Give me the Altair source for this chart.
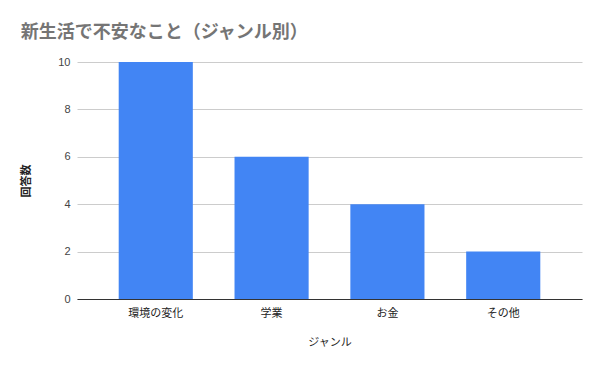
import altair as alt
import pandas as pd

categories = ["環境の変化", "学業", "お金", "その他"]
values = [10, 6, 4, 2]

df = pd.DataFrame({"ジャンル": categories, "回答数": values})

FONT = "Liberation Sans, Arial, Noto Sans CJK JP, sans-serif"

chart = alt.Chart(df).mark_bar(color="#4285F4").encode(
    x=alt.X("ジャンル:N", sort=categories,
            scale=alt.Scale(paddingInner=0.36, paddingOuter=0.36),
            axis=alt.Axis(labelAngle=0, ticks=False, domainColor="#333333",
                          labelColor="#222222", labelFontSize=11, labelPadding=8,
                          titleFontSize=11, titleFontWeight="normal", titleColor="#222222",
                          titlePadding=18, grid=False)),
    y=alt.Y("回答数:Q", scale=alt.Scale(domain=[0, 10]),
            axis=alt.Axis(values=[0, 2, 4, 6, 8, 10], ticks=False, domain=False,
                          gridColor="#cccccc", labelColor="#444444", labelFontSize=11,
                          labelPadding=7, titleFontSize=11, titleFontWeight="bold",
                          titleColor="#222222", titlePadding=26)),
).properties(
    width=505,
    height=237,
    title=alt.TitleParams("新生活で不安なこと（ジャンル別）", anchor="start", fontSize=18,
                          fontWeight="bold", color="#757575", font=FONT, offset=14),
    autosize=alt.AutoSizeParams(type="none"),
    padding={"left": 69, "top": 54, "right": 10, "bottom": 64},
).configure(font=FONT).configure_view(stroke=None)

chart.save("out.html", embed_options={"renderer": "svg", "actions": False})
